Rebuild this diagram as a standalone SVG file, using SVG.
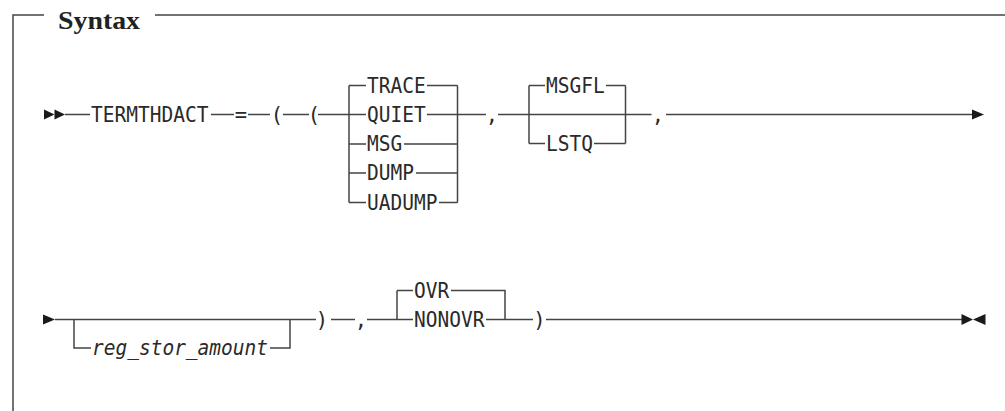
<svg xmlns="http://www.w3.org/2000/svg" width="1005" height="411" viewBox="0 0 1005 411">
<style>
.ln{stroke:#444;stroke-width:1.5;fill:none;stroke-linecap:butt}
.tx{font-family:"DejaVu Sans Mono","Liberation Mono",monospace;font-size:20.5px;fill:#2a2a2a}
.it{font-style:italic}
.mid{text-anchor:middle}
.ar{fill:#1a1a1a}
.hd{font-family:"Liberation Serif",serif;font-weight:bold;font-size:25px;fill:#222}
</style>
<rect width="1005" height="411" fill="#fff"/>
<g id="frame">
<path class="ln" d="M13,411 V15 H44 M155,15 H1005"/>
<text class="hd" x="58" y="28.5" textLength="82" lengthAdjust="spacingAndGlyphs">Syntax</text>
</g>
<g id="connectors">
<path class="ln" d="M65,114.5 H90 M211,114.5 H234 M248,114.5 H270 M283,114.5 H309 M318,114.5 H366"/>
<path class="ln" d="M349,85.5 V202.5 M349,85.5 H366 M349,144 H366 M349,173 H366 M349,202.5 H366"/>
<path class="ln" d="M427,85.5 H457.5 M427,114.5 H457.5 M404,144 H457.5 M416,173 H457.5 M439,202.5 H457.5 M457.5,85.5 V202.5 M457.5,114.5 H486"/>
<path class="ln" d="M498,114.5 H651.5"/>
<path class="ln" d="M529,85.5 V143.5 M529,85.5 H545 M529,143.5 H545 M606,85.5 H625.5 M594,143.5 H625.5 M625.5,85.5 V143.5"/>
<path class="ln" d="M666,114.5 H973"/>
<polygon class="ar" points="972,109.5 984,114.5 972,119.5"/>
<polygon class="ar" points="43,314.5 55,319.5 43,324.5"/>
<path class="ln" d="M55,319.5 H316 M74,319.5 V348 H91 M270,348 H290 V319.5"/>
<path class="ln" d="M331,319.5 H355 M367,319.5 H413 M397,290.5 V319.5 M397,290.5 H413 M451,290.5 H505 V319.5 M486,319.5 H533 M546,319.5 H962"/>
<polygon class="ar" points="961.5,314 973,319.5 961.5,325"/>
<polygon class="ar" points="985.5,314 973,319.5 985.5,325"/>
</g>
<g id="start">
<polygon class="ar" points="44,109.5 54.5,114.5 44,119.5"/>
<polygon class="ar" points="54.5,109.5 65,114.5 54.5,119.5"/>
</g>
<g id="n-termthdact"><text class="tx" x="91" y="121.8" textLength="117.4" lengthAdjust="spacingAndGlyphs">TERMTHDACT</text></g>
<g id="n-eq"><text class="tx mid" x="241" y="121.8">=</text></g>
<g id="n-lp1"><text class="tx mid" x="277" y="121.8">(</text></g>
<g id="n-lp2"><text class="tx mid" x="314" y="121.8">(</text></g>
<g id="n-trace"><text class="tx" x="367" y="92.8" textLength="58.7" lengthAdjust="spacingAndGlyphs">TRACE</text></g>
<g id="n-quiet"><text class="tx" x="367" y="121.8" textLength="58.7" lengthAdjust="spacingAndGlyphs">QUIET</text></g>
<g id="n-msg"><text class="tx" x="367" y="151.3" textLength="35.2" lengthAdjust="spacingAndGlyphs">MSG</text></g>
<g id="n-dump"><text class="tx" x="367" y="180.3" textLength="47" lengthAdjust="spacingAndGlyphs">DUMP</text></g>
<g id="n-uadump"><text class="tx" x="367" y="209.8" textLength="70.4" lengthAdjust="spacingAndGlyphs">UADUMP</text></g>
<g id="n-comma1"><text class="tx mid" x="492" y="121.8">,</text></g>
<g id="n-msgfl"><text class="tx" x="546" y="92.8" textLength="58.7" lengthAdjust="spacingAndGlyphs">MSGFL</text></g>
<g id="n-lstq"><text class="tx" x="546" y="150.8" textLength="47" lengthAdjust="spacingAndGlyphs">LSTQ</text></g>
<g id="n-comma2"><text class="tx mid" x="658" y="121.8">,</text></g>
<g id="n-reg"><text class="tx it" x="92" y="355.3" textLength="176" lengthAdjust="spacingAndGlyphs">reg_stor_amount</text></g>
<g id="n-rp1"><text class="tx mid" x="322" y="326.8">)</text></g>
<g id="n-comma3"><text class="tx mid" x="361" y="326.8">,</text></g>
<g id="n-ovr"><text class="tx" x="414" y="297.8" textLength="35.2" lengthAdjust="spacingAndGlyphs">OVR</text></g>
<g id="n-nonovr"><text class="tx" x="414" y="326.8" textLength="70.4" lengthAdjust="spacingAndGlyphs">NONOVR</text></g>
<g id="n-rp2"><text class="tx mid" x="539.5" y="326.8">)</text></g>
</svg>
